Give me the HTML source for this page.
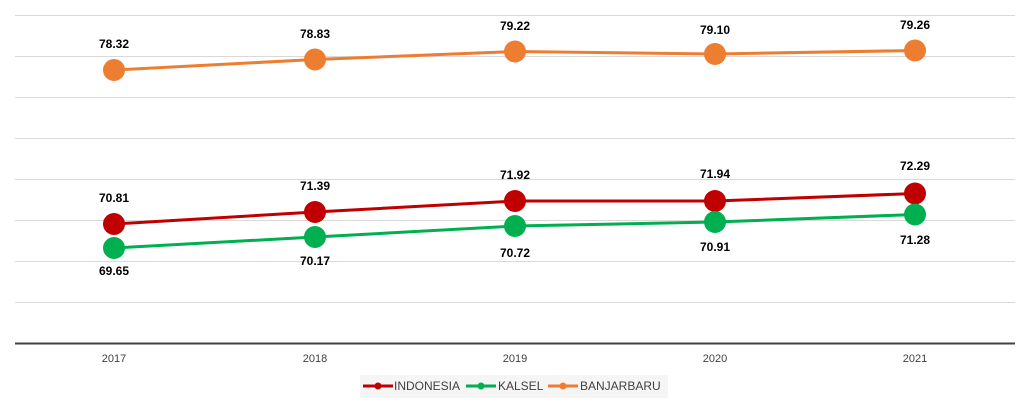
<!DOCTYPE html>
<html><head><style>body{margin:0;background:#fff}svg{display:block;font-family:"Liberation Sans",sans-serif}</style></head>
<body>
<svg width="1031" height="407" viewBox="0 0 1031 407">
<g stroke="#d9d9d9" stroke-width="1">
<line x1="15" x2="1015" y1="15.5" y2="15.5"/><line x1="15" x2="1015" y1="56.5" y2="56.5"/>
<line x1="15" x2="1015" y1="97.5" y2="97.5"/><line x1="15" x2="1015" y1="138.5" y2="138.5"/>
<line x1="15" x2="1015" y1="179.5" y2="179.5"/><line x1="15" x2="1015" y1="220.5" y2="220.5"/>
<line x1="15" x2="1015" y1="261.5" y2="261.5"/><line x1="15" x2="1015" y1="302.5" y2="302.5"/>
</g>
<line x1="15" x2="1015" y1="343.5" y2="343.5" stroke="#404040" stroke-width="2"/>
<g font-size="11" fill="#404040" text-anchor="middle">
<text x="114" y="362">2017</text><text x="315" y="362">2018</text><text x="515" y="362">2019</text><text x="715" y="362">2020</text><text x="915" y="362">2021</text>
</g>
<polyline points="114,70 315,59.5 515,51.5 715,54 915,50.5" fill="none" stroke="#ed7d31" stroke-width="3"/>
<polyline points="114,224 315,212 515,201 715,201 915,193.5" fill="none" stroke="#c00000" stroke-width="3"/>
<polyline points="114,248 315,237 515,226 715,222 915,214.5" fill="none" stroke="#00b050" stroke-width="3"/>
<g fill="#ed7d31"><circle cx="114" cy="70" r="11"/><circle cx="315" cy="59.5" r="11"/><circle cx="515" cy="51.5" r="11"/><circle cx="715" cy="54" r="11"/><circle cx="915" cy="50.5" r="11"/></g>
<g fill="#c00000"><circle cx="114" cy="224" r="11"/><circle cx="315" cy="212" r="11"/><circle cx="515" cy="201" r="11"/><circle cx="715" cy="201" r="11"/><circle cx="915" cy="193.5" r="11"/></g>
<g fill="#00b050"><circle cx="114" cy="248" r="11"/><circle cx="315" cy="237" r="11"/><circle cx="515" cy="226" r="11"/><circle cx="715" cy="222" r="11"/><circle cx="915" cy="214.5" r="11"/></g>
<g font-size="12" font-weight="bold" fill="#000" text-anchor="middle">
<text x="114" y="48">78.32</text><text x="315" y="38">78.83</text><text x="515" y="30">79.22</text><text x="715" y="34">79.10</text><text x="915" y="29">79.26</text>
<text x="114" y="202">70.81</text><text x="315" y="190">71.39</text><text x="515" y="179">71.92</text><text x="715" y="178">71.94</text><text x="915" y="170">72.29</text>
<text x="114" y="275">69.65</text><text x="315" y="265">70.17</text><text x="515" y="257">70.72</text><text x="715" y="251">70.91</text><text x="915" y="244">71.28</text>
</g>
<rect x="360" y="375" width="308" height="23" fill="#f5f5f5"/>
<g font-size="12" fill="#404040">
<line x1="363" x2="393" y1="386" y2="386" stroke="#c00000" stroke-width="3"/><circle cx="378" cy="386" r="3.5" fill="#c00000"/>
<text x="394" y="390">INDONESIA</text>
<line x1="466" x2="496" y1="386" y2="386" stroke="#00b050" stroke-width="3"/><circle cx="481" cy="386" r="3.5" fill="#00b050"/>
<text x="498" y="390">KALSEL</text>
<line x1="548" x2="578" y1="386" y2="386" stroke="#ed7d31" stroke-width="3"/><circle cx="563" cy="386" r="3.5" fill="#ed7d31"/>
<text x="580" y="390">BANJARBARU</text>
</g>
</svg>
</body></html>
